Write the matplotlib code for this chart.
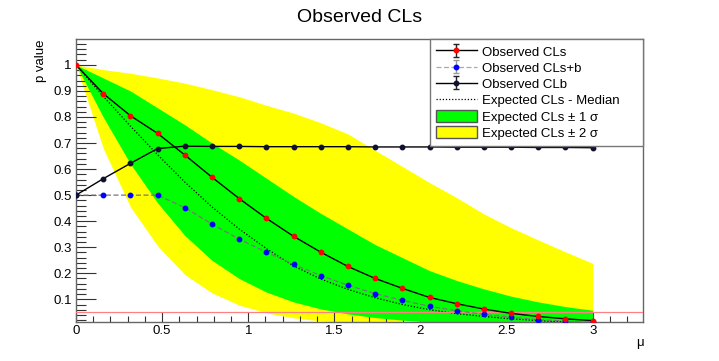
import numpy as np
import matplotlib
matplotlib.use("Agg")
import matplotlib.pyplot as plt
from matplotlib.lines import Line2D
from matplotlib.patches import Patch
from matplotlib.ticker import MultipleLocator

# scan points in mu
mu_points = [0.0, 0.158, 0.316, 0.474, 0.632, 0.789, 0.947, 1.105, 1.263, 1.421,
             1.579, 1.737, 1.895, 2.053, 2.211, 2.368, 2.526, 2.684, 2.842, 3.0]

# observed values
obs_cls = [1.0, 0.89, 0.805, 0.737, 0.654, 0.569, 0.487, 0.411, 0.342, 0.281,
           0.226, 0.180, 0.142, 0.107, 0.083, 0.0625, 0.046, 0.034, 0.025, 0.018]
obs_clsb = [0.5, 0.5, 0.5, 0.5, 0.452, 0.389, 0.331, 0.281, 0.234, 0.191,
            0.154, 0.122, 0.096, 0.073, 0.056, 0.042, 0.031, 0.022, 0.016, 0.012]
obs_clb = [0.5, 0.563, 0.622, 0.679, 0.688, 0.687, 0.687, 0.686, 0.686, 0.686,
           0.686, 0.685, 0.685, 0.685, 0.684, 0.684, 0.684, 0.683, 0.683, 0.682]

# expected values
exp_median = [1.0, 0.88, 0.765, 0.655, 0.55, 0.455, 0.37, 0.295, 0.228, 0.178,
              0.138, 0.106, 0.080, 0.060, 0.045, 0.034, 0.025, 0.018, 0.013, 0.009]
exp_p1 = [1.0, 0.95, 0.90, 0.835, 0.77, 0.70, 0.635, 0.565, 0.495, 0.43,
          0.37, 0.31, 0.26, 0.21, 0.172, 0.14, 0.112, 0.09, 0.072, 0.058]
exp_m1 = [1.0, 0.80, 0.62, 0.47, 0.345, 0.25, 0.18, 0.128, 0.09, 0.063,
          0.044, 0.030, 0.020, 0.013, 0.009, 0.006, 0.004, 0.003, 0.002, 0.001]
exp_p2 = [1.0, 0.982, 0.968, 0.950, 0.930, 0.905, 0.878, 0.845, 0.815, 0.778,
          0.735, 0.672, 0.610, 0.548, 0.49, 0.428, 0.375, 0.328, 0.282, 0.238]
exp_m2 = [1.0, 0.68, 0.455, 0.305, 0.195, 0.125, 0.078, 0.048, 0.029, 0.017,
          0.010, 0.006, 0.0035, 0.002, 0.001, 0.001, 0.001, 0.001, 0.001, 0.001]

cl_line = 0.05

plt.rcParams['font.family'] = ['Liberation Sans', 'DejaVu Sans']

fig = plt.figure(figsize=(7.19, 3.61), dpi=100)
ax = fig.add_axes([76 / 719, 1 - 321.7 / 361, 567 / 719, 282.7 / 361])

ax.fill_between(mu_points, exp_m2, exp_p2, color='#ffff00', lw=0, zorder=1)
ax.fill_between(mu_points, exp_m1, exp_p1, color='#00ff00', lw=0, zorder=2)
ax.plot(mu_points, exp_median, color='black', ls=(0, (1, 1.5)), lw=0.9, zorder=3)
ax.axhline(cl_line, color='#ff8080', lw=0.9, zorder=4)

ax.plot(mu_points, obs_clsb, color='#777777', ls=(0, (4, 2)), lw=0.9,
        marker='o', ms=3.2, mfc='#0000ff', mec='#0000ff', zorder=5)
ax.plot(mu_points, obs_clb, color='black', lw=1,
        marker='o', ms=3.2, mfc='#101030', mec='#101030', zorder=6)
ax.plot(mu_points, obs_cls, color='black', lw=1,
        marker='o', ms=3.2, mfc='#ff0000', mec='#ff0000', zorder=7)

ax.set_xlim(0, 3.292)
ax.set_ylim(0.014, 1.0995)

ax.xaxis.set_major_locator(MultipleLocator(0.5))
ax.xaxis.set_minor_locator(MultipleLocator(0.1))
ax.yaxis.set_major_locator(MultipleLocator(0.1))
ax.yaxis.set_minor_locator(MultipleLocator(0.02))
ax.xaxis.set_major_formatter(plt.FuncFormatter(lambda v, p: f"{v:g}"))
ax.yaxis.set_major_formatter(plt.FuncFormatter(lambda v, p: f"{v:g}"))

ax.tick_params(axis='x', which='major', direction='in', length=7.2, width=0.8,
               labelsize=9.5, pad=2.5, top=False, color='#333333')
ax.tick_params(axis='x', which='minor', direction='in', length=4, width=0.8,
               top=False, color='#333333')
ax.tick_params(axis='y', which='major', direction='in', length=14.5, width=0.8,
               labelsize=9.5, pad=3, right=False, color='#333333')
ax.tick_params(axis='y', which='minor', direction='in', length=7.5, width=0.8,
               right=False, color='#333333')
for s in ax.spines.values():
    s.set_color('#666666')
    s.set_linewidth(1)

fig.text(0.5, 1 - 17 / 361, 'Observed CLs', ha='center', va='center', fontsize=14)
fig.text(40.7 / 719, 1 - 39 / 361, 'p value', rotation=90, ha='center', va='top',
         fontsize=9.5)
fig.text(640 / 719, 1 - 343 / 361, 'μ', ha='center', va='center', fontsize=9.5)

# legend proxies
h_cls = ax.errorbar([np.nan], [np.nan], yerr=[0.1], color='black', lw=1,
                    marker='o', ms=3.2, mfc='#ff0000', mec='#ff0000',
                    ecolor='#222222', capsize=2.5, elinewidth=1)
h_clsb = ax.errorbar([np.nan], [np.nan], yerr=[0.1], color='#aaaaaa',
                     ls=(0, (4, 2)), lw=0.9, marker='o', ms=3.2, mfc='#0000ff',
                     mec='#0000ff', ecolor='#999999', capsize=2.5, elinewidth=1)
h_clb = ax.errorbar([np.nan], [np.nan], yerr=[0.1], color='black', lw=1,
                    marker='o', ms=3.2, mfc='#101030', mec='#101030',
                    ecolor='#222222', capsize=2.5, elinewidth=1)
h_med = Line2D([], [], color='black', ls=(0, (1, 1.5)), lw=0.9)
h_g = Patch(facecolor='#00ff00', edgecolor='#555555', lw=1)
h_y = Patch(facecolor='#ffff00', edgecolor='#555555', lw=1)

leg = ax.legend([h_cls, h_clsb, h_clb, h_med, h_g, h_y],
                ['Observed CLs', 'Observed CLs+b', 'Observed CLb',
                 'Expected CLs - Median', 'Expected CLs ± 1 σ', 'Expected CLs ± 2 σ'],
                loc='upper left', bbox_to_anchor=(0.624, 0, 0.376, 1.0), mode='expand',
                borderaxespad=0, fontsize=9.5, handlelength=3.1, handleheight=1.05,
                handletextpad=0.4, labelspacing=0.2, borderpad=0.45,
                fancybox=False, framealpha=1, edgecolor='#777777')
leg.get_frame().set_linewidth(1)
leg.set_zorder(10)

fig.savefig('out.png', dpi=100)
